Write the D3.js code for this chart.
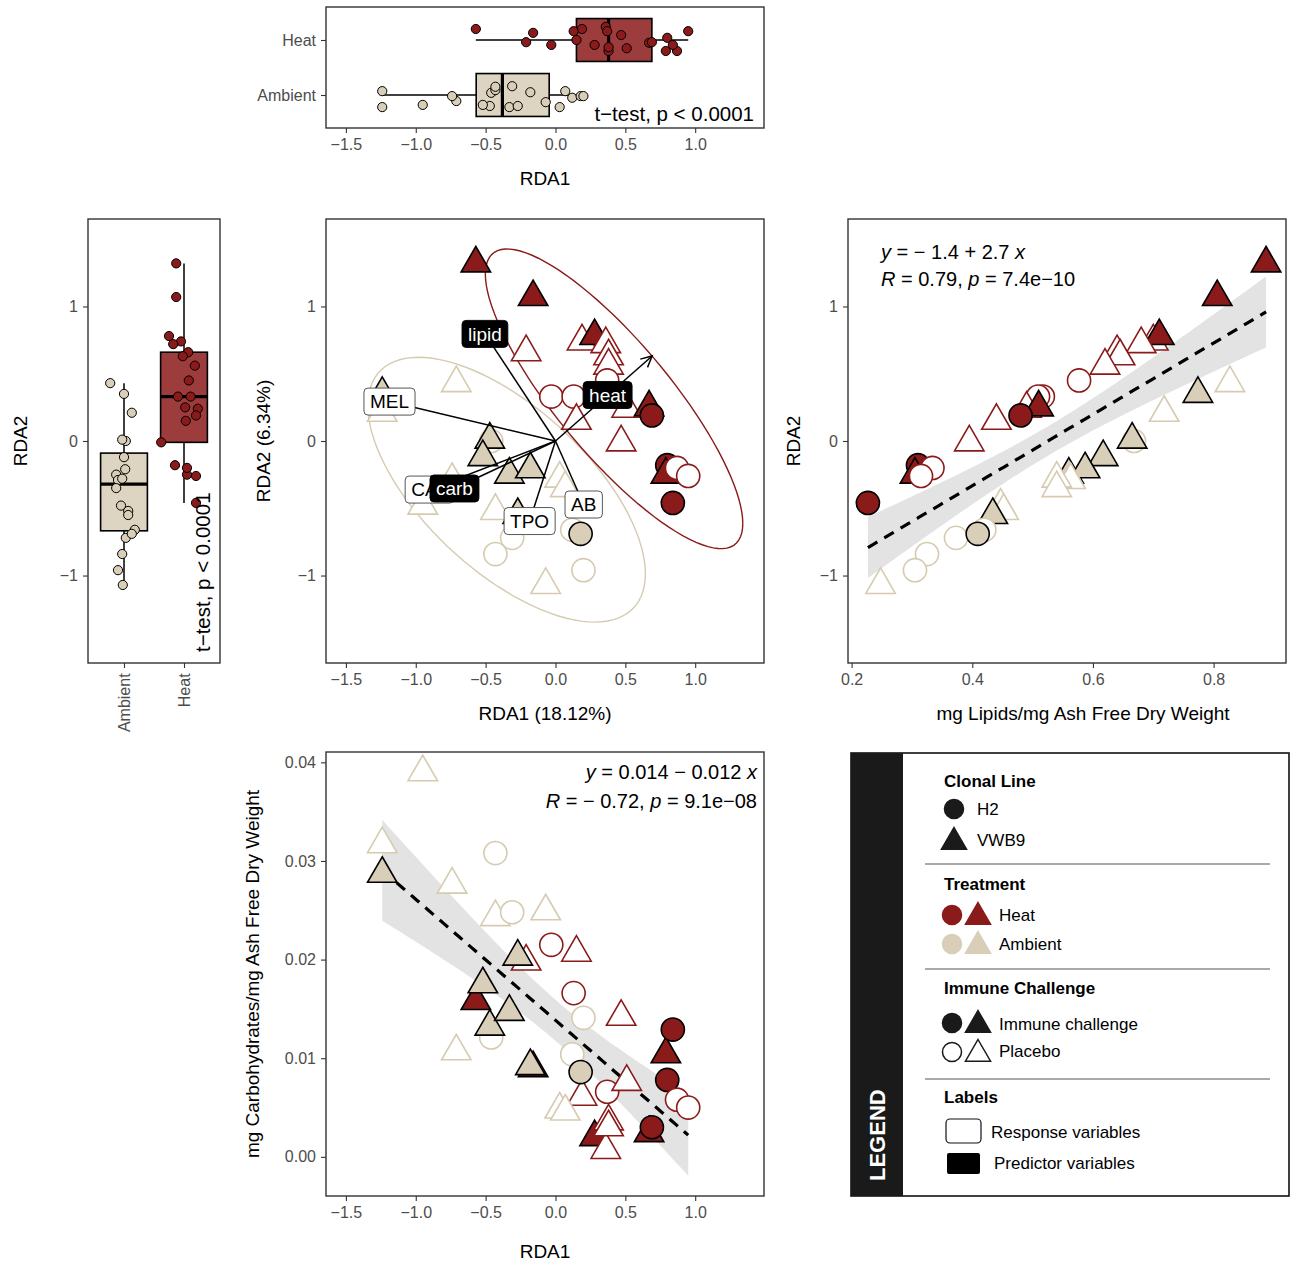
<!DOCTYPE html>
<html>
<head>
<meta charset="utf-8">
<script src="https://cdn.jsdelivr.net/npm/d3@7"></script>
<style>
  body { margin: 0; background: #fff; }
  text { font-family: "Liberation Sans", Arial, Helvetica, sans-serif; white-space: pre; }
</style>
</head>
<body>
<svg id="fig" width="1290" height="1263"></svg>
<script>
// ---- samples (21 heat, 20 ambient) ----
const treatment = ["Heat","Heat","Heat","Heat","Heat","Heat","Heat","Heat","Heat","Heat","Heat",
  "Heat","Heat","Heat","Heat","Heat","Heat","Heat","Heat","Heat","Heat",
  "Ambient","Ambient","Ambient","Ambient","Ambient","Ambient","Ambient","Ambient","Ambient","Ambient",
  "Ambient","Ambient","Ambient","Ambient","Ambient","Ambient","Ambient","Ambient","Ambient","Ambient"];
const clone = ["VWB9","VWB9","VWB9","VWB9","VWB9","VWB9","VWB9","VWB9","H2","H2","H2",
  "VWB9","VWB9","VWB9","H2","VWB9","H2","VWB9","H2","H2","H2",
  "H2","VWB9","VWB9","VWB9","VWB9","VWB9","VWB9","VWB9","VWB9","VWB9",
  "VWB9","VWB9","VWB9","VWB9","H2","H2","H2","H2","H2","VWB9"];
const immune = ["IC","IC","P","P","IC","P","P","P","P","P","P",
  "P","P","IC","IC","P","IC","IC","P","P","IC",
  "P","IC","P","P","IC","IC","IC","IC","P","P",
  "P","P","P","IC","P","P","P","IC","P","P"];
const rda1 = [-0.57,-0.16,-0.21,0.19,0.28,0.36,0.38,0.38,0.37,-0.03,0.13,
  0.15,0.51,0.67,0.69,0.47,0.80,0.79,0.87,0.95,0.84,
  -0.46,-1.24,-1.24,-0.71,-0.47,-0.52,-0.33,-0.18,-0.74,-0.95,
  0.03,0.07,-0.43,-0.27,-0.43,-0.31,0.12,0.18,0.20,-0.07];
const rda2 = [1.32,1.07,0.66,0.74,0.78,0.72,0.63,0.56,0.45,0.33,0.33,
  0.15,0.24,0.25,0.19,-0.01,-0.18,-0.25,-0.20,-0.26,-0.46,
  0.00,0.35,0.21,0.43,0.01,-0.12,-0.25,-0.21,-0.29,-0.48,
  -0.28,-0.35,-0.52,-0.55,-0.84,-0.72,-0.66,-0.69,-0.96,-1.07];
const lipid = [0.887,0.806,0.64,0.70,0.71,0.68,0.645,0.62,0.577,0.517,0.509,
  0.44,0.49,0.51,0.48,0.395,0.31,0.305,0.334,0.315,0.227,
  0.668,0.774,0.718,0.827,0.665,0.617,0.56,0.587,0.563,0.447,
  0.54,0.54,0.452,0.434,0.325,0.373,0.42,0.409,0.305,0.248];
const carb = [0.0158,0.0090,0.0198,0.0061,0.0020,0.0007,0.0036,0.0030,0.0066,0.0215,0.0166,
  0.0207,0.0076,0.0024,0.0030,0.0142,0.0078,0.0104,0.0058,0.0050,0.0129,
  0.0121,0.0287,0.0317,0.0107,0.0132,0.0175,0.0147,0.0092,0.0276,0.0390,
  0.0048,0.0046,0.0243,0.0203,0.0308,0.0248,0.0104,0.0086,0.0141,0.0249];
// jitter (fraction of category spacing)
const jitterTop = [-0.20,-0.13,0.04,-0.20,0.09,-0.24,0.20,0.13,-0.16,0.09,-0.16,
  0.00,0.15,0.05,0.04,-0.09,-0.04,0.20,0.20,-0.16,0.09,
  -0.04,-0.07,0.22,0.11,0.20,0.18,0.22,-0.05,0.02,0.18,
  0.22,-0.07,-0.09,0.20,-0.15,-0.16,0.05,0.02,0.02,0.13];
const jitterLeft = [-0.13,-0.13,0.07,-0.05,-0.25,-0.18,-0.02,0.18,0.08,-0.10,0.11,
  0.03,0.23,0.02,0.20,-0.38,-0.15,0.05,0.05,0.20,0.20,
  0.03,0.00,0.13,-0.23,-0.03,0.00,-0.13,0.02,-0.10,-0.05,
  -0.03,-0.13,0.07,0.07,-0.03,0.03,0.18,0.13,-0.10,-0.02];

// ---- biplot vectors ----
const vecNames = ["lipid","MEL","heat","CAT","carb","TPO","AB"];
const vecType  = ["predictor","response","predictor","response","predictor","response","response"];
const vecTipX  = [-0.505,-1.188,0.692,-0.902,-0.723,-0.185,0.202];
const vecTipY  = [0.796,0.293,0.632,-0.361,-0.353,-0.595,-0.472];
const vecLabX  = [-0.505,-1.188,0.373,-0.902,-0.723,-0.185,0.202];
const vecLabY  = [0.796,0.293,0.342,-0.361,-0.353,-0.595,-0.472];

// ---- ticks / limits ----
const rda1Limits = [-1.5, 1.35];
const rda2Limits = [-1.5, 1.5];
const rda1Ticks = [-1.5,-1,-0.5,0,0.5,1];
const rda2Ticks = [-1,0,1];
const lipidTicks = [0.2,0.4,0.6,0.8];
const carbTicks = [0,0.01,0.02,0.03,0.04];
const groupsTop = ["Heat","Ambient"];
const groupsLeft = ["Ambient","Heat"];

const FONT = '"Liberation Sans", Arial, Helvetica, sans-serif';
const HEAT = "#8b1a1a", AMB = "#d9cfb8", AMB_LINE = "#d6cbb0";
const BOX_FILL = {Heat: "#9c3c3c", Ambient: "#ddd5c2"};
const col = t => t === "Heat" ? HEAT : AMB;

const samples = rda1.map((v, i) => ({
  trt: treatment[i], clone: clone[i], imm: immune[i],
  rda1: v, rda2: rda2[i], lipid: lipid[i], carb: carb[i],
  jt: jitterTop[i], jl: jitterLeft[i]
}));

const svg = d3.select("#fig");
const P = {
  top:   {x: 326, y: 7,   w: 438, h: 121},
  left:  {x: 88,  y: 219, w: 132, h: 444},
  mid:   {x: 326, y: 219, w: 438, h: 444},
  right: {x: 848, y: 219, w: 438, h: 444},
  bot:   {x: 326, y: 752, w: 438, h: 444}
};
function expand(lo, hi) { const d = (hi - lo) * 0.05; return [lo - d, hi + d]; }

const xRDA = d3.scaleLinear().domain(expand(...rda1Limits)).range([P.mid.x, P.mid.x + P.mid.w]);
const yRDA = d3.scaleLinear().domain(expand(...rda2Limits)).range([P.mid.y + P.mid.h, P.mid.y]);

svg.append("defs").append("marker")
  .attr("id", "arrow").attr("markerUnits", "userSpaceOnUse")
  .attr("viewBox", "-12 -7 14 14").attr("markerWidth", 14).attr("markerHeight", 14)
  .attr("refX", 0).attr("refY", 0).attr("orient", "auto")
  .append("path").attr("d", "M-11,-5.5L0,0L-11,5.5")
  .attr("fill", "none").attr("stroke", "#000").attr("stroke-width", 1.5);

function styleAxis(sel) {
  sel.attr("font-family", FONT).attr("font-size", 16);
  sel.select(".domain").remove();
  sel.selectAll(".tick line").attr("stroke", "#333").attr("stroke-width", 1.1);
  sel.selectAll(".tick text").attr("fill", "#4d4d4d");
}
function border(p) {
  svg.append("rect").attr("x", p.x).attr("y", p.y).attr("width", p.w).attr("height", p.h)
    .attr("fill", "none").attr("stroke", "#333").attr("stroke-width", 1.4);
}
function title(x, y, txt, rot) {
  svg.append("text").attr("transform", `translate(${x},${y})` + (rot ? " rotate(-90)" : ""))
    .attr("text-anchor", "middle").attr("dy", "0.35em").style("font-size", "19px").text(txt);
}
function symbol(clone, r) {
  const p = d3.path();
  if (clone === "H2") { p.arc(0, 0, r * 0.68, 0, 2 * Math.PI); }
  else { p.moveTo(0, -r); p.lineTo(r * 0.866, r / 2); p.lineTo(-r * 0.866, r / 2); p.closePath(); }
  return p.toString();
}
function drawPoints(g, data, xf, yf, r) {
  g.selectAll(null).data(data).join("path")
    .attr("transform", d => `translate(${xf(d)},${yf(d)})`)
    .attr("d", d => symbol(d.clone, r))
    .attr("fill", d => d.imm === "IC" ? col(d.trt) : "#fff")
    .attr("stroke", d => d.imm === "IC" ? "#000" : (d.trt === "Heat" ? HEAT : AMB_LINE))
    .attr("stroke-width", 1.6);
}
function boxStats(vals) {
  const v = vals.slice().sort(d3.ascending);
  const q1 = d3.quantile(v, 0.25), med = d3.quantile(v, 0.5), q3 = d3.quantile(v, 0.75);
  const iqr = q3 - q1;
  return {q1, med, q3,
    lo: d3.min(v.filter(x => x >= q1 - 1.5 * iqr)),
    hi: d3.max(v.filter(x => x <= q3 + 1.5 * iqr))};
}
function linFit(xs, ys) {
  const n = xs.length, mx = d3.mean(xs), my = d3.mean(ys);
  const sxx = d3.sum(xs, x => (x - mx) ** 2);
  const sxy = d3.sum(xs.map((x, i) => (x - mx) * (ys[i] - my)));
  const b = sxy / sxx, a = my - b * mx;
  const s = Math.sqrt(d3.sum(xs.map((x, i) => (ys[i] - a - b * x) ** 2)) / (n - 2));
  const t = 2.0227; // qt(0.975, 39)
  const [lo, hi] = d3.extent(xs);
  const grid = d3.range(80).map(k => lo + k * (hi - lo) / 79);
  const band = grid.map(x => {
    const yh = a + b * x, se = s * Math.sqrt(1 / n + (x - mx) ** 2 / sxx);
    return {x, y: yh, y0: yh - t * se, y1: yh + t * se};
  });
  return {a, b, band};
}
// robust multivariate-t scatter (as used by stat_ellipse type "t")
function covTrob(xs, ys, nu) {
  const n = xs.length;
  let w = xs.map(() => 1), loc = [d3.mean(xs), d3.mean(ys)], X;
  const scatter = (X, w, div) => {
    let a = 0, b = 0, c = 0;
    X.forEach((v, i) => { a += w[i] * v[0] * v[0]; b += w[i] * v[0] * v[1]; c += w[i] * v[1] * v[1]; });
    return [a / div, b / div, c / div];
  };
  for (let it = 0; it < 100; it++) {
    const w0 = w.slice();
    X = xs.map((x, i) => [x - loc[0], ys[i] - loc[1]]);
    const [a, b, c] = scatter(X, w, d3.sum(w));
    const det = a * c - b * b;
    w = X.map(v => (nu + 2) / (nu + (c * v[0] * v[0] - 2 * b * v[0] * v[1] + a * v[1] * v[1]) / det));
    const sw = d3.sum(w);
    loc = [d3.sum(xs.map((x, i) => w[i] * x)) / sw, d3.sum(ys.map((y, i) => w[i] * y)) / sw];
    if (w.every((v, i) => Math.abs(v - w0[i]) < 1e-4)) break;
  }
  const [sxx, sxy, syy] = scatter(X, w, n);
  return {loc, sxx, sxy, syy};
}
function drawFit(g, fit, xs, ys) {
  g.append("path").datum(fit.band)
    .attr("d", d3.area().x(d => xs(d.x)).y0(d => ys(d.y0)).y1(d => ys(d.y1)))
    .attr("fill", "#e3e3e3");
  g.append("path").datum(fit.band)
    .attr("d", d3.line().x(d => xs(d.x)).y(d => ys(d.y)))
    .attr("fill", "none").attr("stroke", "#000").attr("stroke-width", 3.2)
    .attr("stroke-dasharray", "11,8");
}
function richText(x, y, anchor, parts) {
  const t = svg.append("text").attr("x", x).attr("y", y).attr("text-anchor", anchor).style("font-size", "20px");
  parts.forEach(p => t.append("tspan").text(p[0]).style("font-style", p[1] ? "italic" : "normal"));
}

// ===== top boxplot: RDA1 by treatment =====
{
  const p = P.top;
  const y = d3.scalePoint().domain(groupsTop).range([p.y, p.y + p.h]).padding(0.6);
  const step = y.step(), bw = 0.78 * step;
  const g = svg.append("g");
  groupsTop.forEach(gr => {
    const st = boxStats(samples.filter(d => d.trt === gr).map(d => d.rda1));
    const cy = y(gr);
    g.append("line").attr("x1", xRDA(st.lo)).attr("x2", xRDA(st.hi)).attr("y1", cy).attr("y2", cy)
      .attr("stroke", "#000").attr("stroke-width", 1.5);
    g.append("rect").attr("x", xRDA(st.q1)).attr("width", xRDA(st.q3) - xRDA(st.q1))
      .attr("y", cy - bw / 2).attr("height", bw)
      .attr("fill", BOX_FILL[gr]).attr("stroke", "#000").attr("stroke-width", 1.6);
    g.append("line").attr("x1", xRDA(st.med)).attr("x2", xRDA(st.med))
      .attr("y1", cy - bw / 2).attr("y2", cy + bw / 2).attr("stroke", "#000").attr("stroke-width", 3.2);
  });
  g.selectAll(null).data(samples).join("circle")
    .attr("cx", d => xRDA(d.rda1)).attr("cy", d => y(d.trt) + d.jt * step).attr("r", 4.6)
    .attr("fill", d => col(d.trt)).attr("stroke", "#000").attr("stroke-width", 1);
  svg.append("g").attr("transform", `translate(0,${p.y + p.h})`)
    .call(d3.axisBottom(xRDA).tickValues(rda1Ticks).tickFormat(d3.format(".1f")).tickSize(5).tickPadding(6))
    .call(styleAxis);
  svg.append("g").attr("transform", `translate(${p.x},0)`)
    .call(d3.axisLeft(y).tickSize(5).tickPadding(5)).call(styleAxis);
  svg.append("text").attr("x", 754).attr("y", 121).attr("text-anchor", "end")
    .style("font-size", "20.5px").text("t\u2212test, p < 0.0001");
  border(p);
  title(545, 178, "RDA1");
}

// ===== left boxplot: RDA2 by treatment =====
{
  const p = P.left;
  const x = d3.scalePoint().domain(groupsLeft).range([p.x, p.x + p.w]).padding(0.6);
  const step = x.step(), bw = 0.78 * step;
  const g = svg.append("g");
  groupsLeft.forEach(gr => {
    const st = boxStats(samples.filter(d => d.trt === gr).map(d => d.rda2));
    const cx = x(gr);
    g.append("line").attr("y1", yRDA(st.lo)).attr("y2", yRDA(st.hi)).attr("x1", cx).attr("x2", cx)
      .attr("stroke", "#000").attr("stroke-width", 1.5);
    g.append("rect").attr("y", yRDA(st.q3)).attr("height", yRDA(st.q1) - yRDA(st.q3))
      .attr("x", cx - bw / 2).attr("width", bw)
      .attr("fill", BOX_FILL[gr]).attr("stroke", "#000").attr("stroke-width", 1.6);
    g.append("line").attr("y1", yRDA(st.med)).attr("y2", yRDA(st.med))
      .attr("x1", cx - bw / 2).attr("x2", cx + bw / 2).attr("stroke", "#000").attr("stroke-width", 3.2);
  });
  g.selectAll(null).data(samples).join("circle")
    .attr("cy", d => yRDA(d.rda2)).attr("cx", d => x(d.trt) + d.jl * step).attr("r", 4.6)
    .attr("fill", d => col(d.trt)).attr("stroke", "#000").attr("stroke-width", 1);
  svg.append("g").attr("transform", `translate(${p.x},0)`)
    .call(d3.axisLeft(yRDA).tickValues(rda2Ticks).tickFormat(d3.format("d")).tickSize(5).tickPadding(5))
    .call(styleAxis);
  const ax = svg.append("g").attr("transform", `translate(0,${p.y + p.h})`)
    .call(d3.axisBottom(x).tickSize(5).tickPadding(6)).call(styleAxis);
  ax.selectAll(".tick text").attr("transform", "translate(0,4) rotate(-90)")
    .attr("text-anchor", "end").attr("x", 0).attr("y", 0).attr("dy", "0.35em").attr("dx", "-0.4em");
  svg.append("text").attr("transform", "translate(210,652) rotate(-90)")
    .style("font-size", "20.5px").text("t\u2212test, p < 0.0001");
  border(p);
  title(20, 441, "RDA2", true);
}

// ===== centre: RDA biplot =====
{
  const p = P.mid;
  const g = svg.append("g");
  // 95% ellipses per treatment, t-distribution scatter
  const qf = {Heat: 3.4928, Ambient: 3.5219};
  ["Ambient", "Heat"].forEach(gr => {
    const s = samples.filter(d => d.trt === gr);
    const ct = covTrob(s.map(d => d.rda1), s.map(d => d.rda2), 5);
    const u11 = Math.sqrt(ct.sxx), u12 = ct.sxy / u11, u22 = Math.sqrt(ct.syy - u12 * u12);
    const r = Math.sqrt(2 * qf[gr]);
    const pts = d3.range(101).map(k => {
      const t = 2 * Math.PI * k / 100;
      return [ct.loc[0] + r * Math.cos(t) * u11, ct.loc[1] + r * (Math.cos(t) * u12 + Math.sin(t) * u22)];
    });
    g.append("path").datum(pts)
      .attr("d", d3.line().x(d => xRDA(d[0])).y(d => yRDA(d[1])))
      .attr("fill", "none").attr("stroke", gr === "Heat" ? HEAT : AMB_LINE).attr("stroke-width", 1.4);
  });
  drawPoints(g, samples, d => xRDA(d.rda1), d => yRDA(d.rda2), 17);
  vecNames.forEach((nm, i) => {
    g.append("line").attr("x1", xRDA(0)).attr("y1", yRDA(0))
      .attr("x2", xRDA(vecTipX[i])).attr("y2", yRDA(vecTipY[i]))
      .attr("stroke", "#000").attr("stroke-width", 1.5).attr("marker-end", "url(#arrow)");
  });
  vecNames.forEach((nm, i) => {
    const pred = vecType[i] === "predictor";
    const lg = g.append("g");
    const cx = xRDA(vecLabX[i]), cy = yRDA(vecLabY[i]);
    const t = lg.append("text").attr("x", cx).attr("y", cy).attr("dy", "0.36em")
      .attr("text-anchor", "middle").style("font-size", "19px")
      .attr("fill", pred ? "#fff" : "#000").text(nm);
    const w = t.node().getComputedTextLength() + 12;
    lg.insert("rect", "text").attr("x", cx - w / 2).attr("y", cy - 13.5).attr("width", w).attr("height", 27)
      .attr("rx", 4).attr("fill", pred ? "#000" : "#fff").attr("stroke", pred ? "#000" : "#444").attr("stroke-width", 0.9);
  });
  svg.append("g").attr("transform", `translate(0,${p.y + p.h})`)
    .call(d3.axisBottom(xRDA).tickValues(rda1Ticks).tickFormat(d3.format(".1f")).tickSize(5).tickPadding(6))
    .call(styleAxis);
  svg.append("g").attr("transform", `translate(${p.x},0)`)
    .call(d3.axisLeft(yRDA).tickValues(rda2Ticks).tickFormat(d3.format("d")).tickSize(5).tickPadding(5))
    .call(styleAxis);
  border(p);
  title(545, 713, "RDA1 (18.12%)");
  title(263, 441, "RDA2 (6.34%)", true);
}

// ===== right: RDA2 vs lipids =====
{
  const p = P.right;
  const x = d3.scaleLinear().domain(expand(...d3.extent(lipid))).range([p.x, p.x + p.w]);
  const g = svg.append("g");
  drawFit(g, linFit(lipid, rda2), x, yRDA);
  drawPoints(g, samples, d => x(d.lipid), d => yRDA(d.rda2), 17);
  svg.append("g").attr("transform", `translate(0,${p.y + p.h})`)
    .call(d3.axisBottom(x).tickValues(lipidTicks).tickFormat(d3.format(".1f")).tickSize(5).tickPadding(6))
    .call(styleAxis);
  svg.append("g").attr("transform", `translate(${p.x},0)`)
    .call(d3.axisLeft(yRDA).tickValues(rda2Ticks).tickFormat(d3.format("d")).tickSize(5).tickPadding(5))
    .call(styleAxis);
  richText(881, 259, "start", [["y", 1], [" = \u2212 1.4 + 2.7 ", 0], ["x", 1]]);
  richText(881, 286, "start", [["R", 1], [" = 0.79, ", 0], ["p", 1], [" = 7.4e\u221210", 0]]);
  border(p);
  title(1083, 713, "mg Lipids/mg Ash Free Dry Weight");
  title(793, 441, "RDA2", true);
}

// ===== bottom: carbohydrates vs RDA1 =====
{
  const p = P.bot;
  const fit = linFit(rda1, carb);
  const ext = d3.extent(carb.concat(fit.band.map(d => d.y0), fit.band.map(d => d.y1)));
  const y = d3.scaleLinear().domain(expand(...ext)).range([p.y + p.h, p.y]);
  const g = svg.append("g");
  drawFit(g, fit, xRDA, y);
  drawPoints(g, samples, d => xRDA(d.rda1), d => y(d.carb), 17);
  svg.append("g").attr("transform", `translate(0,${p.y + p.h})`)
    .call(d3.axisBottom(xRDA).tickValues(rda1Ticks).tickFormat(d3.format(".1f")).tickSize(5).tickPadding(6))
    .call(styleAxis);
  svg.append("g").attr("transform", `translate(${p.x},0)`)
    .call(d3.axisLeft(y).tickValues(carbTicks).tickFormat(d3.format(".2f")).tickSize(5).tickPadding(5))
    .call(styleAxis);
  richText(757, 779, "end", [["y", 1], [" = 0.014 \u2212 0.012 ", 0], ["x", 1]]);
  richText(757, 808, "end", [["R", 1], [" = \u2212 0.72, ", 0], ["p", 1], [" = 9.1e\u221208", 0]]);
  border(p);
  title(545, 1251, "RDA1");
  title(252, 974, "mg Carbohydrates/mg Ash Free Dry Weight", true);
}

// ===== legend =====
{
  const L = svg.append("g");
  L.append("rect").attr("x", 851).attr("y", 753).attr("width", 438).attr("height", 443)
    .attr("fill", "#fff").attr("stroke", "#111").attr("stroke-width", 1.6);
  L.append("rect").attr("x", 851).attr("y", 753).attr("width", 52).attr("height", 443).attr("fill", "#1a1a1a");
  L.append("text").attr("transform", "translate(885,1181) rotate(-90)").attr("fill", "#fff")
    .style("font-size", "22px").style("font-weight", "bold").text("LEGEND");
  const head = (y, t) => L.append("text").attr("x", 944).attr("y", y).attr("dy", "0.35em")
    .style("font-size", "17px").style("font-weight", "bold").text(t);
  const item = (x, y, t) => L.append("text").attr("x", x).attr("y", y).attr("dy", "0.35em")
    .style("font-size", "17px").text(t);
  const sym = (x, y, shape, fill, stroke) => L.append("path")
    .attr("transform", `translate(${x},${y})`).attr("d", symbol(shape, shape === "H2" ? 14 : 14.5))
    .attr("fill", fill).attr("stroke", stroke).attr("stroke-width", 1.5);
  const sep = y => L.append("line").attr("x1", 925).attr("x2", 1270).attr("y1", y).attr("y2", y)
    .attr("stroke", "#555").attr("stroke-width", 1.2);

  head(781, "Clonal Line");
  sym(954, 809, "H2", "#1a1a1a", "#1a1a1a"); item(977, 809, "H2");
  sym(954, 842, "VWB9", "#1a1a1a", "#1a1a1a"); item(977, 840, "VWB9");
  sep(864);
  head(884, "Treatment");
  sym(952, 915, "H2", HEAT, HEAT); sym(978, 917, "VWB9", HEAT, HEAT); item(999, 915, "Heat");
  sym(952, 944, "H2", AMB, AMB); sym(978, 946, "VWB9", AMB, AMB); item(999, 944, "Ambient");
  sep(969);
  head(988, "Immune Challenge");
  sym(952, 1023, "H2", "#1a1a1a", "#1a1a1a"); sym(978, 1025, "VWB9", "#1a1a1a", "#1a1a1a"); item(999, 1024, "Immune challenge");
  sym(952, 1052, "H2", "#fff", "#1a1a1a"); sym(978, 1054, "VWB9", "#fff", "#1a1a1a"); item(999, 1051, "Placebo");
  sep(1079);
  head(1097, "Labels");
  L.append("rect").attr("x", 946).attr("y", 1119).attr("width", 35).attr("height", 24).attr("rx", 4)
    .attr("fill", "#fff").attr("stroke", "#111").attr("stroke-width", 1.2);
  item(991, 1132, "Response variables");
  L.append("rect").attr("x", 947).attr("y", 1153).attr("width", 33).attr("height", 21).attr("rx", 2)
    .attr("fill", "#000");
  item(994, 1163, "Predictor variables");
}
</script>
</body>
</html>
